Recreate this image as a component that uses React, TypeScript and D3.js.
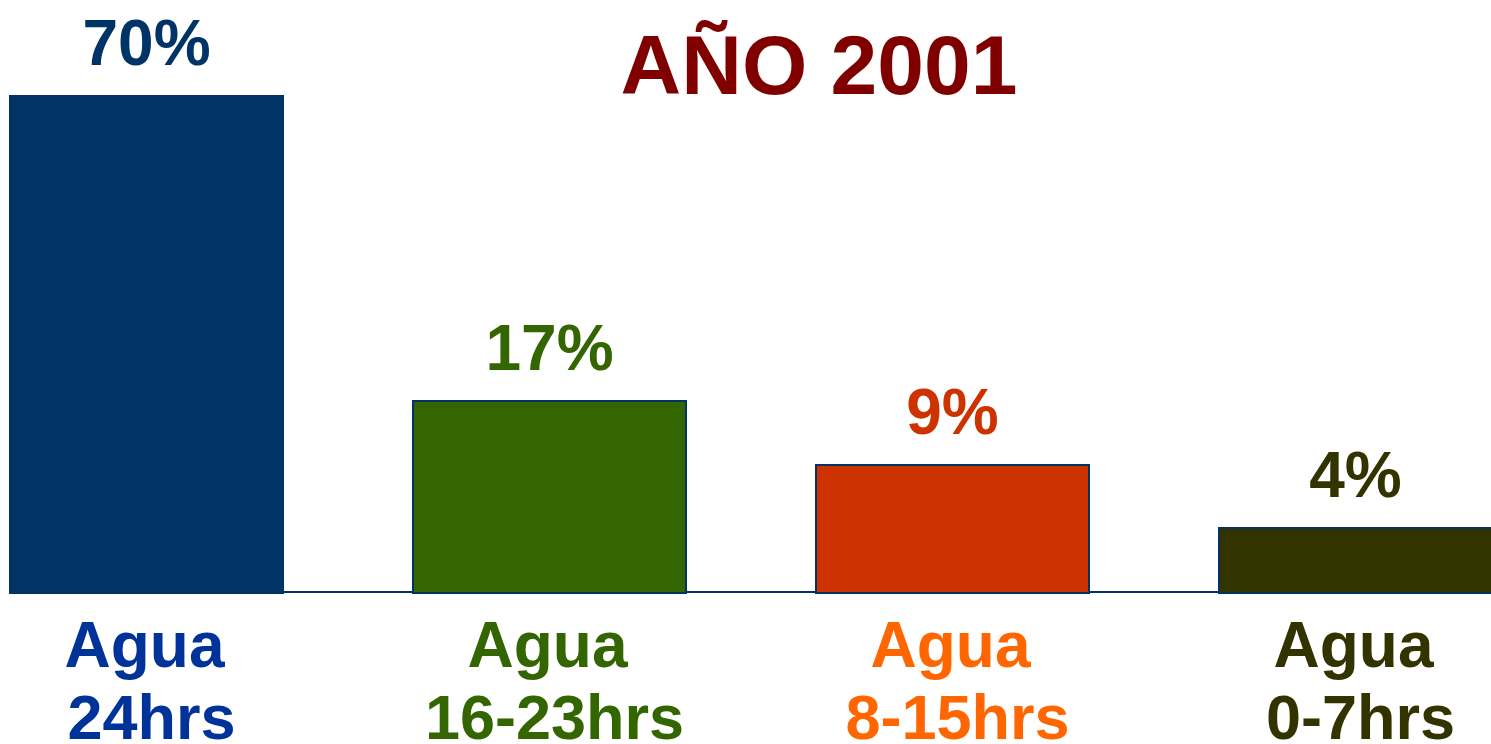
import * as d3 from 'd3';

const categories = ['24hrs', '16-23hrs', '8-15hrs', '0-7hrs'];
const values = [70, 17, 9, 4];
const valueLabels = ['70%', '17%', '9%', '4%'];
const barColors = ['#003366', '#336600', '#CC3300', '#333300'];
const textColors = ['#003366', '#336600', '#CC3300', '#333300'];
const categoryColors = ['#003399', '#336600', '#FF6600', '#333300'];

// the original bars are not drawn to a straight scale, so map through its own stops
const scaleStops = [0, 4, 9, 17, 70];

const width = 1491;
const height = 744;
const baseline = 593;
const font = '"Liberation Sans", Arial, sans-serif';

export default function App() {
    const x = d3.scaleBand<string>()
        .domain(categories)
        .range([10, 1492])
        .paddingInner(0.3226)
        .paddingOuter(0);

    const y = d3.scaleLinear()
        .domain(scaleStops)
        .range([baseline, 528, 465, 401, 96]);

    return (
        <svg
            width={width}
            height={height}
            style={{ position: 'absolute', left: 0, top: 0, background: '#fff' }}
            fontFamily={font}
            fontWeight="bold"
        >
            <text x={819} y={94} textAnchor="middle" fontSize={84} fill="#800000">AÑO 2001</text>

            <line x1={30} x2={width} y1={baseline - 1} y2={baseline - 1} stroke="#003366" strokeWidth={2} />

            {categories.map((c, i) => {
                const bx = x(c) ?? 0;
                const cx = bx + x.bandwidth() / 2;
                return (
                    <g key={c}>
                        <rect
                            x={bx}
                            y={y(values[i])}
                            width={x.bandwidth()}
                            height={baseline - y(values[i])}
                            fill={barColors[i]}
                            stroke="#003366"
                            strokeWidth={2}
                        />
                        <text x={cx} y={y(values[i]) - 31} textAnchor="middle" fontSize={64} fill={textColors[i]}>
                            {valueLabels[i]}
                        </text>
                        <text x={cx - 2} y={667} textAnchor="middle" fontSize={64} fill={categoryColors[i]}>Agua</text>
                        <text x={cx + 5} y={739} textAnchor="middle" fontSize={63} fill={categoryColors[i]}>{c}</text>
                    </g>
                );
            })}
        </svg>
    );
}
